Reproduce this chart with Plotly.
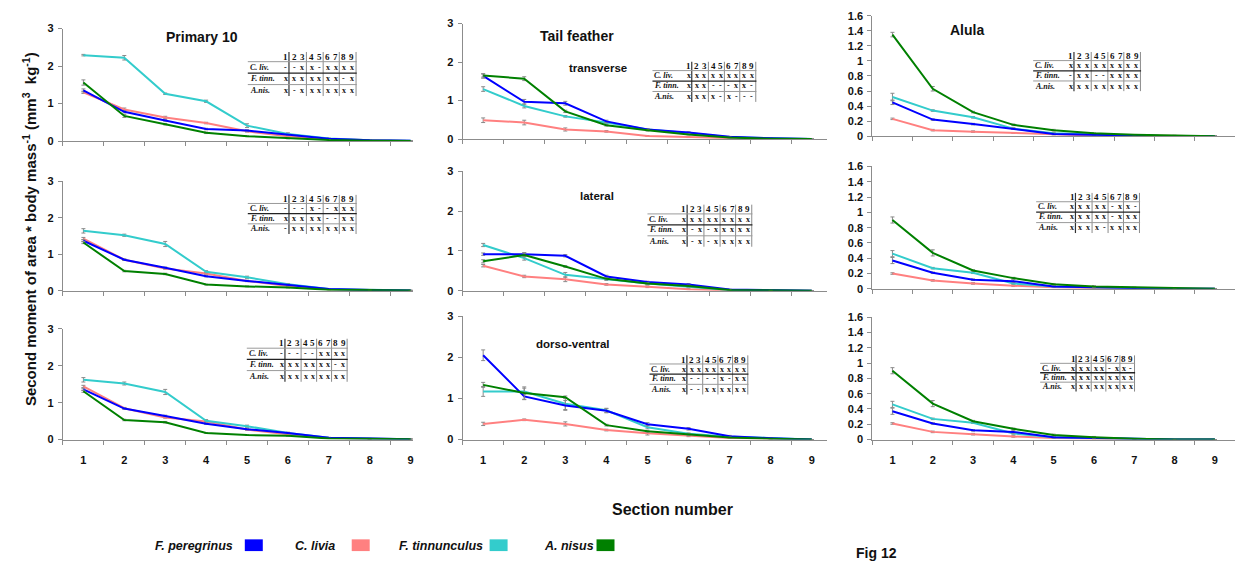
import plotly.graph_objects as go

# ---------------------------------------------------------------- data
SECTIONS = [1, 2, 3, 4, 5, 6, 7, 8, 9]
SPECIES = ["F. peregrinus", "C. livia", "F. tinnunculus", "A. nisus"]
COLORS = ["#0000FF", "#FF8080", "#33CCCC", "#008000"]

# Primary 10 - transverse
PRIM_TR_PER = [1.35, 0.78, 0.55, 0.32, 0.28, 0.16, 0.06, 0.02, 0.01]
PRIM_TR_LIV = [1.30, 0.84, 0.63, 0.48, 0.26, 0.13, 0.05, 0.02, 0.00]
PRIM_TR_TIN = [2.29, 2.22, 1.26, 1.06, 0.41, 0.19, 0.07, 0.02, 0.01]
PRIM_TR_NIS = [1.56, 0.67, 0.45, 0.22, 0.13, 0.07, 0.03, 0.01, 0.00]
PRIM_TR_PER_SE = [0.04, 0.03, 0.02, 0.02, 0.02, 0.01, 0.01, 0.00, 0.00]
PRIM_TR_LIV_SE = [0.03, 0.04, 0.03, 0.02, 0.02, 0.01, 0.00, 0.00, 0.00]
PRIM_TR_TIN_SE = [0.02, 0.06, 0.02, 0.03, 0.05, 0.03, 0.01, 0.00, 0.00]
PRIM_TR_NIS_SE = [0.07, 0.04, 0.02, 0.02, 0.01, 0.01, 0.00, 0.00, 0.00]

# Primary 10 - lateral
PRIM_LA_PER = [1.37, 0.85, 0.63, 0.40, 0.27, 0.17, 0.05, 0.02, 0.01]
PRIM_LA_LIV = [1.43, 0.85, 0.61, 0.47, 0.27, 0.13, 0.04, 0.02, 0.01]
PRIM_LA_TIN = [1.64, 1.52, 1.28, 0.52, 0.37, 0.18, 0.05, 0.03, 0.01]
PRIM_LA_NIS = [1.32, 0.54, 0.46, 0.17, 0.12, 0.09, 0.03, 0.02, 0.01]
PRIM_LA_PER_SE = [0.03, 0.02, 0.02, 0.02, 0.01, 0.01, 0.00, 0.00, 0.00]
PRIM_LA_LIV_SE = [0.03, 0.02, 0.02, 0.02, 0.02, 0.01, 0.00, 0.00, 0.00]
PRIM_LA_TIN_SE = [0.06, 0.03, 0.07, 0.03, 0.03, 0.02, 0.01, 0.00, 0.00]
PRIM_LA_NIS_SE = [0.03, 0.02, 0.02, 0.01, 0.01, 0.01, 0.00, 0.00, 0.00]

# Primary 10 - dorso-ventral
PRIM_DV_PER = [1.36, 0.84, 0.64, 0.43, 0.28, 0.18, 0.05, 0.02, 0.01]
PRIM_DV_LIV = [1.44, 0.85, 0.60, 0.49, 0.27, 0.14, 0.04, 0.02, 0.01]
PRIM_DV_TIN = [1.62, 1.52, 1.29, 0.51, 0.36, 0.18, 0.05, 0.03, 0.01]
PRIM_DV_NIS = [1.31, 0.53, 0.47, 0.18, 0.12, 0.10, 0.03, 0.02, 0.01]
PRIM_DV_PER_SE = [0.03, 0.02, 0.02, 0.02, 0.01, 0.01, 0.00, 0.00, 0.00]
PRIM_DV_LIV_SE = [0.03, 0.02, 0.02, 0.02, 0.02, 0.01, 0.00, 0.00, 0.00]
PRIM_DV_TIN_SE = [0.06, 0.04, 0.07, 0.03, 0.03, 0.02, 0.01, 0.00, 0.00]
PRIM_DV_NIS_SE = [0.03, 0.02, 0.02, 0.01, 0.01, 0.01, 0.00, 0.00, 0.00]

# Tail feather - transverse
TAIL_TR_PER = [1.64, 0.97, 0.93, 0.46, 0.25, 0.17, 0.06, 0.02, 0.00]
TAIL_TR_LIV = [0.49, 0.43, 0.25, 0.20, 0.08, 0.05, 0.03, 0.01, 0.00]
TAIL_TR_TIN = [1.30, 0.86, 0.59, 0.43, 0.25, 0.16, 0.05, 0.02, 0.00]
TAIL_TR_NIS = [1.65, 1.57, 0.72, 0.36, 0.23, 0.12, 0.04, 0.01, 0.00]
TAIL_TR_PER_SE = [0.06, 0.06, 0.05, 0.03, 0.02, 0.02, 0.01, 0.00, 0.00]
TAIL_TR_LIV_SE = [0.06, 0.06, 0.04, 0.02, 0.01, 0.01, 0.00, 0.00, 0.00]
TAIL_TR_TIN_SE = [0.06, 0.05, 0.02, 0.02, 0.02, 0.01, 0.00, 0.00, 0.00]
TAIL_TR_NIS_SE = [0.04, 0.05, 0.03, 0.02, 0.02, 0.01, 0.01, 0.00, 0.00]

# Tail feather - lateral
TAIL_LA_PER = [0.92, 0.92, 0.88, 0.36, 0.22, 0.16, 0.03, 0.01, 0.00]
TAIL_LA_LIV = [0.63, 0.36, 0.29, 0.16, 0.10, 0.04, 0.01, 0.00, 0.00]
TAIL_LA_TIN = [1.15, 0.82, 0.40, 0.29, 0.18, 0.10, 0.02, 0.01, 0.00]
TAIL_LA_NIS = [0.74, 0.90, 0.61, 0.30, 0.18, 0.12, 0.02, 0.01, 0.00]
TAIL_LA_PER_SE = [0.03, 0.04, 0.03, 0.03, 0.02, 0.02, 0.01, 0.00, 0.00]
TAIL_LA_LIV_SE = [0.03, 0.03, 0.06, 0.02, 0.02, 0.01, 0.00, 0.00, 0.00]
TAIL_LA_TIN_SE = [0.04, 0.05, 0.06, 0.03, 0.03, 0.02, 0.01, 0.00, 0.00]
TAIL_LA_NIS_SE = [0.04, 0.05, 0.02, 0.02, 0.02, 0.02, 0.01, 0.00, 0.00]

# Tail feather - dorso-ventral
TAIL_DV_PER = [2.05, 1.05, 0.83, 0.70, 0.37, 0.26, 0.08, 0.03, 0.00]
TAIL_DV_LIV = [0.38, 0.48, 0.38, 0.23, 0.15, 0.09, 0.04, 0.02, 0.00]
TAIL_DV_TIN = [1.17, 1.17, 0.87, 0.71, 0.30, 0.14, 0.07, 0.03, 0.00]
TAIL_DV_NIS = [1.33, 1.13, 1.03, 0.35, 0.20, 0.12, 0.05, 0.02, 0.00]
TAIL_DV_PER_SE = [0.13, 0.08, 0.12, 0.05, 0.04, 0.03, 0.02, 0.01, 0.00]
TAIL_DV_LIV_SE = [0.04, 0.02, 0.05, 0.02, 0.04, 0.02, 0.01, 0.00, 0.00]
TAIL_DV_TIN_SE = [0.12, 0.08, 0.14, 0.05, 0.04, 0.02, 0.01, 0.00, 0.00]
TAIL_DV_NIS_SE = [0.06, 0.15, 0.03, 0.02, 0.02, 0.02, 0.01, 0.00, 0.00]

# Alula - transverse
ALU_TR_PER = [0.45, 0.22, 0.16, 0.10, 0.03, 0.02, 0.01, 0.00, 0.00]
ALU_TR_LIV = [0.23, 0.08, 0.06, 0.04, 0.02, 0.01, 0.01, 0.00, 0.00]
ALU_TR_TIN = [0.52, 0.34, 0.25, 0.10, 0.04, 0.02, 0.01, 0.00, 0.00]
ALU_TR_NIS = [1.35, 0.63, 0.32, 0.15, 0.08, 0.04, 0.02, 0.01, 0.00]
ALU_TR_PER_SE = [0.03, 0.01, 0.01, 0.01, 0.01, 0.01, 0.00, 0.00, 0.00]
ALU_TR_LIV_SE = [0.01, 0.01, 0.01, 0.00, 0.00, 0.00, 0.00, 0.00, 0.00]
ALU_TR_TIN_SE = [0.05, 0.01, 0.01, 0.01, 0.01, 0.01, 0.00, 0.00, 0.00]
ALU_TR_NIS_SE = [0.03, 0.03, 0.01, 0.01, 0.01, 0.00, 0.00, 0.00, 0.00]

# Alula - lateral
ALU_LA_PER = [0.37, 0.21, 0.12, 0.10, 0.03, 0.02, 0.01, 0.00, 0.00]
ALU_LA_LIV = [0.20, 0.11, 0.07, 0.04, 0.02, 0.01, 0.00, 0.00, 0.00]
ALU_LA_TIN = [0.46, 0.27, 0.21, 0.07, 0.03, 0.02, 0.01, 0.00, 0.00]
ALU_LA_NIS = [0.90, 0.47, 0.24, 0.14, 0.06, 0.03, 0.02, 0.01, 0.00]
ALU_LA_PER_SE = [0.04, 0.01, 0.01, 0.02, 0.01, 0.00, 0.00, 0.00, 0.00]
ALU_LA_LIV_SE = [0.01, 0.01, 0.01, 0.01, 0.00, 0.00, 0.00, 0.00, 0.00]
ALU_LA_TIN_SE = [0.04, 0.01, 0.01, 0.01, 0.01, 0.00, 0.00, 0.00, 0.00]
ALU_LA_NIS_SE = [0.04, 0.04, 0.01, 0.01, 0.01, 0.01, 0.00, 0.00, 0.00]

# Alula - dorso-ventral
ALU_DV_PER = [0.37, 0.21, 0.12, 0.10, 0.03, 0.02, 0.01, 0.00, 0.00]
ALU_DV_LIV = [0.21, 0.10, 0.07, 0.04, 0.02, 0.01, 0.00, 0.00, 0.00]
ALU_DV_TIN = [0.46, 0.27, 0.22, 0.08, 0.03, 0.02, 0.01, 0.00, 0.00]
ALU_DV_NIS = [0.90, 0.47, 0.24, 0.14, 0.06, 0.03, 0.01, 0.00, 0.00]
ALU_DV_PER_SE = [0.04, 0.01, 0.01, 0.02, 0.01, 0.00, 0.00, 0.00, 0.00]
ALU_DV_LIV_SE = [0.01, 0.01, 0.01, 0.01, 0.00, 0.00, 0.00, 0.00, 0.00]
ALU_DV_TIN_SE = [0.04, 0.01, 0.01, 0.01, 0.01, 0.00, 0.00, 0.00, 0.00]
ALU_DV_NIS_SE = [0.04, 0.04, 0.01, 0.01, 0.01, 0.01, 0.00, 0.00, 0.00]

# Significance tables (rows: C. liv., F. tinn., A.nis.; columns: sections 1-9)
TABLE_ROWS = ["C. liv.", "F. tinn.", "A.nis."]
PRIM_TR_SIG = ["--xx-xxxx", "xxxxxxx-x", "x-xxxxxxx"]
PRIM_LA_SIG = ["---x--xxx", "xxxxx--xx", "-xxxxxxxx"]
PRIM_DV_SIG = ["-----xxxx", "xxxxxxx-x", "xxxxxxxxx"]
TAIL_TR_SIG = ["xxxxxxxxx", "xxx---xx-", "xxxx-x---"]
TAIL_LA_SIG = ["xxxxxxxxx", "x-x-xxxxx", "x-x-xxxxx"]
TAIL_DV_SIG = ["xxxxxxxxx", "x----x-xx", "x--xxxxxx"]
ALU_TR_SIG = ["xxxxxxxxx", "-xx--xxxx", "xxxxxxxxx"]
ALU_LA_SIG = ["xxxxx-xx-", "xxxxx-xxx", "xxxx-xxxx"]
ALU_DV_SIG = ["xxxxx-xx-", "xxxxxxxxx", "xxxxxxxxx"]

PANEL_TITLES = ["Primary 10", "Tail feather", "Alula"]
VIEW_LABELS = ["transverse", "lateral", "dorso-ventral"]

# ---------------------------------------------------------------- layout helpers
W, H = 1243, 561


def fx(p):
    return p / W


def fy(p):
    return 1 - p / H


FONT = "Arial, Liberation Sans, sans-serif"
SERIF = "Times New Roman, Liberation Serif, serif"
AXIS_GRAY = "#8c8c8c"
ERR_GRAY = "#8a8a8a"
TEXT = "#111111"

# plot area boxes in pixels
COL_X = [(63, 413, 9.05), (463, 828, 9.38), (873, 1236, 9.5)]
ROW_Y = {
    (0, 0): (23, 138), (0, 1): (18, 136), (0, 2): (10, 133),
    (1, 0): (179, 291), (1, 1): (169, 291), (1, 2): (164, 289),
    (2, 0): (330, 443), (2, 1): (317, 443), (2, 2): (318, 443),
}
Y_MAX = [3, 3, 1.6]
Y_DTICK = [1, 1, 0.2]

TABLE_BOX = {
    (0, 0): (248, 47, 109, 45), (0, 1): (653, 57, 104, 41), (0, 2): (1034, 47, 108, 40),
    (1, 0): (248, 193, 109, 40), (1, 1): (648, 203, 105, 43), (1, 2): (1037, 191, 104, 41),
    (2, 0): (247, 340, 101, 44), (2, 1): (650, 357, 99, 40), (2, 2): (1041, 357, 95, 37),
}
DIGIT_FR = [0.348, 0.425, 0.500, 0.585, 0.655, 0.732, 0.806, 0.883, 0.954]
VLINE_FR = [0.378, 0.538, 0.692, 0.840, 0.994]
ROW_FR = [0.11, 0.35, 0.60, 0.87]
HLINE_FR = [(0.22, "#9a9a9a", 1), (0.48, "#222222", 1.3), (0.74, "#9a9a9a", 1)]

SUBTITLE_POS = {
    (0, 0): (202, 32), (0, 1): (577, 31), (0, 2): (968, 25),
    (0, 1, "v"): (598, 63), (1, 1, "v"): (597, 194), (2, 1, "v"): (573, 345),
}

PANELS = {
    (0, 0): ([PRIM_TR_PER, PRIM_TR_LIV, PRIM_TR_TIN, PRIM_TR_NIS],
             [PRIM_TR_PER_SE, PRIM_TR_LIV_SE, PRIM_TR_TIN_SE, PRIM_TR_NIS_SE], PRIM_TR_SIG),
    (1, 0): ([PRIM_LA_PER, PRIM_LA_LIV, PRIM_LA_TIN, PRIM_LA_NIS],
             [PRIM_LA_PER_SE, PRIM_LA_LIV_SE, PRIM_LA_TIN_SE, PRIM_LA_NIS_SE], PRIM_LA_SIG),
    (2, 0): ([PRIM_DV_PER, PRIM_DV_LIV, PRIM_DV_TIN, PRIM_DV_NIS],
             [PRIM_DV_PER_SE, PRIM_DV_LIV_SE, PRIM_DV_TIN_SE, PRIM_DV_NIS_SE], PRIM_DV_SIG),
    (0, 1): ([TAIL_TR_PER, TAIL_TR_LIV, TAIL_TR_TIN, TAIL_TR_NIS],
             [TAIL_TR_PER_SE, TAIL_TR_LIV_SE, TAIL_TR_TIN_SE, TAIL_TR_NIS_SE], TAIL_TR_SIG),
    (1, 1): ([TAIL_LA_PER, TAIL_LA_LIV, TAIL_LA_TIN, TAIL_LA_NIS],
             [TAIL_LA_PER_SE, TAIL_LA_LIV_SE, TAIL_LA_TIN_SE, TAIL_LA_NIS_SE], TAIL_LA_SIG),
    (2, 1): ([TAIL_DV_PER, TAIL_DV_LIV, TAIL_DV_TIN, TAIL_DV_NIS],
             [TAIL_DV_PER_SE, TAIL_DV_LIV_SE, TAIL_DV_TIN_SE, TAIL_DV_NIS_SE], TAIL_DV_SIG),
    (0, 2): ([ALU_TR_PER, ALU_TR_LIV, ALU_TR_TIN, ALU_TR_NIS],
             [ALU_TR_PER_SE, ALU_TR_LIV_SE, ALU_TR_TIN_SE, ALU_TR_NIS_SE], ALU_TR_SIG),
    (1, 2): ([ALU_LA_PER, ALU_LA_LIV, ALU_LA_TIN, ALU_LA_NIS],
             [ALU_LA_PER_SE, ALU_LA_LIV_SE, ALU_LA_TIN_SE, ALU_LA_NIS_SE], ALU_LA_SIG),
    (2, 2): ([ALU_DV_PER, ALU_DV_LIV, ALU_DV_TIN, ALU_DV_NIS],
             [ALU_DV_PER_SE, ALU_DV_LIV_SE, ALU_DV_TIN_SE, ALU_DV_NIS_SE], ALU_DV_SIG),
}

# drawing order: C. livia, F. tinnunculus, F. peregrinus, A. nisus (last on top)
DRAW_ORDER = [1, 2, 0, 3]

fig = go.Figure()
layout = dict(
    width=W, height=H,
    margin=dict(l=0, r=0, t=0, b=0),
    paper_bgcolor="white", plot_bgcolor="white",
    showlegend=False,
    font=dict(family=FONT, color=TEXT),
)
annotations = []
shapes = []

n = 0
for r in range(3):
    for c in range(3):
        n += 1
        xs = "" if n == 1 else str(n)
        x0, x1, xmax = COL_X[c]
        top, bot = ROW_Y[(r, c)]
        layout["xaxis" + xs] = dict(
            domain=[fx(x0), fx(x1)], range=[0.5, xmax], anchor="y" + xs,
            showline=True, linecolor=AXIS_GRAY, linewidth=1,
            showgrid=False, zeroline=False,
            tickmode="array", tickvals=SECTIONS, ticktext=[str(s) for s in SECTIONS],
            ticks="outside", ticklen=0, tickcolor=AXIS_GRAY,
            showticklabels=(r == 2), ticklabelstandoff=10,
            tickfont=dict(family=FONT, size=11, color=TEXT, weight="bold"),
            minor=dict(tickmode="array", tickvals=[s - 0.5 for s in SECTIONS],
                       ticks="outside", ticklen=4, tickcolor=AXIS_GRAY, showgrid=False),
        )
        layout["yaxis" + xs] = dict(
            domain=[fy(bot), fy(top)], range=[0, Y_MAX[c]], anchor="x" + xs,
            showline=True, linecolor=AXIS_GRAY, linewidth=1,
            showgrid=False, zeroline=False,
            dtick=Y_DTICK[c], tick0=0,
            ticks="outside", ticklen=4, tickcolor=AXIS_GRAY, ticklabelstandoff=2,
            tickfont=dict(family=FONT, size=11, color=TEXT, weight="bold"),
        )

        means, errs, sig = PANELS[(r, c)]
        for k in DRAW_ORDER:
            fig.add_trace(go.Scatter(
                x=SECTIONS, y=means[k], mode="lines", name=SPECIES[k],
                line=dict(color=COLORS[k], width=2),
                error_y=dict(type="data", array=errs[k], color=ERR_GRAY, thickness=1, width=2),
                xaxis="x" + xs, yaxis="y" + xs, cliponaxis=False, hoverinfo="x+y+name",
            ))

        # significance table
        tx, ty, tw, th = TABLE_BOX[(r, c)]
        for f in VLINE_FR:
            shapes.append(dict(type="line", xref="paper", yref="paper",
                               x0=fx(tx + f * tw), x1=fx(tx + f * tw),
                               y0=fy(ty), y1=fy(ty + th),
                               line=dict(color="#333333" if f == VLINE_FR[0] else "#8a8a8a",
                                         width=1.2 if f == VLINE_FR[0] else 1)))
        for f, col, wdt in HLINE_FR:
            shapes.append(dict(type="line", xref="paper", yref="paper",
                               x0=fx(tx), x1=fx(tx + tw),
                               y0=fy(ty + f * th), y1=fy(ty + f * th),
                               line=dict(color=col, width=wdt)))
        for j, s in enumerate(SECTIONS):
            annotations.append(dict(
                x=fx(tx + DIGIT_FR[j] * tw), y=fy(ty + ROW_FR[0] * th),
                xref="paper", yref="paper", text="<b>%d</b>" % s, showarrow=False,
                xanchor="center", yanchor="middle",
                font=dict(family=SERIF, size=9, color="#111111")))
        for i, lab in enumerate(TABLE_ROWS):
            annotations.append(dict(
                x=fx(tx), y=fy(ty + ROW_FR[i + 1] * th), xref="paper", yref="paper",
                text="<b><i>%s</i></b>" % lab, showarrow=False,
                xanchor="left", yanchor="middle",
                font=dict(family=SERIF, size=8, color="#111111")))
            for j, mark in enumerate(sig[i]):
                annotations.append(dict(
                    x=fx(tx + DIGIT_FR[j] * tw), y=fy(ty + ROW_FR[i + 1] * th),
                    xref="paper", yref="paper", text="<b>%s</b>" % mark, showarrow=False,
                    xanchor="center", yanchor="middle",
                    font=dict(family=SERIF, size=8, color="#111111")))

# panel titles and view labels
for c in range(3):
    px_, py_ = SUBTITLE_POS[(0, c)]
    annotations.append(dict(x=fx(px_), y=fy(py_), xref="paper", yref="paper",
                            text="<b>%s</b>" % PANEL_TITLES[c], showarrow=False,
                            xanchor="center", yanchor="middle",
                            font=dict(family=FONT, size=14, color=TEXT)))
for r in range(3):
    px_, py_ = SUBTITLE_POS[(r, 1, "v")]
    annotations.append(dict(x=fx(px_), y=fy(py_), xref="paper", yref="paper",
                            text="<b>%s</b>" % VIEW_LABELS[r], showarrow=False,
                            xanchor="center", yanchor="middle",
                            font=dict(family=FONT, size=11.5, color=TEXT)))

# axis titles
annotations.append(dict(
    x=fx(29), y=fy(228), xref="paper", yref="paper", textangle=-90,
    text="<b>Second moment of area * body mass<sup>-1</sup> (mm<sup>3</sup>  kg<sup>-1</sup>)</b>",
    showarrow=False, xanchor="center", yanchor="middle",
    font=dict(family=FONT, size=15, color=TEXT)))
annotations.append(dict(
    x=fx(673), y=fy(514), xref="paper", yref="paper", text="<b>Section number</b>",
    showarrow=False, xanchor="center", yanchor="middle",
    font=dict(family=FONT, size=16, color=TEXT)))

# species key
KEY_TEXT_X = [153, 293, 397, 542]
KEY_BOX_X = [245, 352, 490, 597]
for k, name in enumerate(SPECIES):
    annotations.append(dict(
        x=fx(KEY_TEXT_X[k]), y=fy(552), xref="paper", yref="paper",
        text="<b><i>%s</i></b>" % name, showarrow=False,
        xanchor="left", yanchor="middle",
        font=dict(family=FONT, size=12.5, color=TEXT)))
    shapes.append(dict(type="rect", xref="paper", yref="paper",
                       x0=fx(KEY_BOX_X[k]), x1=fx(KEY_BOX_X[k] + 18),
                       y0=fy(545), y1=fy(557),
                       fillcolor=COLORS[k], line=dict(width=0)))

# figure label near the bottom edge of the page
annotations.append(dict(
    x=fx(855), y=fy(549), xref="paper", yref="paper", text="<b>Fig 12</b>",
    showarrow=False, xanchor="left", yanchor="top",
    font=dict(family=FONT, size=14, color=TEXT)))

layout["annotations"] = annotations
layout["shapes"] = shapes
fig.update_layout(**layout)
fig.write_html("out.html")
